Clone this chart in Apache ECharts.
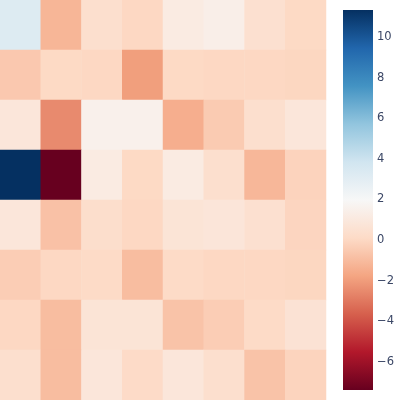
<!DOCTYPE html>
<html>
<head>
<meta charset="utf-8">
<script src="https://cdn.jsdelivr.net/npm/echarts@6/dist/echarts.min.js"></script>
<style>html,body{margin:0;padding:0;background:#fff}#c{width:400px;height:400px}</style>
</head>
<body>
<div id="c"></div>
<script>
const cols = ['0','1','2','3','4','5','6','7'];
const rows = ['0','1','2','3','4','5','6','7'];
const row0 = [3.25, -1.2, 0.37, 0.0, 1.17, 1.38, 0.44, 0.05];
const row1 = [-0.56, 0.05, 0.0, -1.94, 0.05, 0.0, 0.0, -0.05];
const row2 = [0.83, -2.5, 1.5, 1.5, -1.46, -0.46, 0.37, 0.83];
const row3 = [11.35, -7.4, 1.17, 0.05, 1.15, 0.37, -1.15, -0.18];
const row4 = [0.85, -0.8, 0.3, 0.0, 0.7, 0.8, 0.45, -0.1];
const row5 = [-0.38, 0.0, 0.1, -0.95, 0.1, 0.0, 0.0, -0.05];
const row6 = [0.0, -0.95, 0.7, 0.7, -0.75, -0.4, 0.1, 0.6];
const row7 = [0.37, -0.95, 0.83, 0.12, 0.85, 0.37, -0.75, -0.15];
const colorTicks = [-6, -4, -2, 0, 2, 4, 6, 8, 10];
const vMin = -7.4, vMax = 11.35;
const rdbu = ['#67001f','#b2182b','#d6604d','#f4a582','#fddbc7','#f7f7f7','#d1e5f0','#92c5de','#4393c3','#2166ac','#053061'];

const grid = [row0,row1,row2,row3,row4,row5,row6,row7];
const data = [];
grid.forEach((r, i) => r.forEach((v, j) => data.push([j, i, v])));

const stops = rdbu.map((c, i) => ({offset: 1 - i / (rdbu.length - 1), color: c}));

const chart = echarts.init(document.getElementById('c'));
chart.setOption({
  animation: false,
  grid: [
    {left: 0, top: 0, width: 326, height: 400},
    {left: 343, top: 10, width: 30, height: 380}
  ],
  xAxis: [
    {type: 'category', data: cols, gridIndex: 0, show: false},
    {type: 'value', gridIndex: 1, show: false}
  ],
  yAxis: [
    {type: 'category', data: rows, gridIndex: 0, inverse: true, show: false},
    {type: 'value', gridIndex: 1, min: vMin, max: vMax, position: 'right',
     axisLine: {show: false}, axisTick: {show: false}, splitLine: {show: false},
     axisLabel: {customValues: colorTicks, margin: 4, fontSize: 11.5, color: '#3b4766',
       fontFamily: 'DejaVu Sans', formatter: v => String(v).replace('-', '\u2212')}}
  ],
  visualMap: {
    type: 'continuous', min: vMin, max: vMax, show: false, seriesIndex: 0,
    inRange: {color: rdbu}
  },
  graphic: [{
    type: 'rect', left: 343, top: 10, silent: true,
    shape: {width: 30, height: 380},
    style: {fill: new echarts.graphic.LinearGradient(0, 0, 0, 1, stops)}
  }],
  series: [{
    type: 'heatmap', xAxisIndex: 0, yAxisIndex: 0, data: data,
    itemStyle: {borderWidth: 0}, emphasis: {disabled: true}
  }]
});
</script>
</body>
</html>
